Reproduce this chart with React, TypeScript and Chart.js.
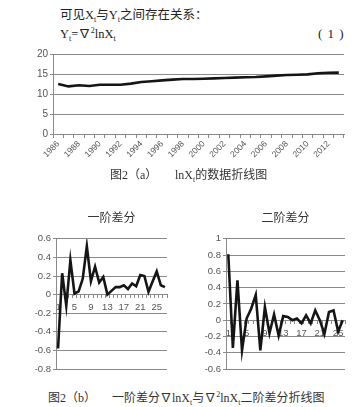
import React, { useEffect, useRef } from 'react';
import { Chart, registerables } from 'chart.js';

Chart.register(...registerables);

const years = ['1986', '1987', '1988', '1989', '1990', '1991', '1992', '1993', '1994', '1995', '1996', '1997', '1998', '1999', '2000', '2001', '2002', '2003', '2004', '2005', '2006', '2007', '2008', '2009', '2010', '2011', '2012', '2013'];
const lnX = [12.5, 11.9, 12.2, 12.0, 12.3, 12.3, 12.3, 12.6, 13.0, 13.2, 13.4, 13.6, 13.75, 13.75, 13.8, 13.9, 14.0, 14.1, 14.2, 14.25, 14.4, 14.6, 14.75, 14.8, 14.9, 15.2, 15.3, 15.35];

const diff1Labels = ['1', '2', '3', '4', '5', '6', '7', '8', '9', '10', '11', '12', '13', '14', '15', '16', '17', '18', '19', '20', '21', '22', '23', '24', '25', '26', '27'];
const diff1 = [-0.58, 0.23, -0.12, 0.37, 0.01, 0.035, 0.17, 0.52, 0.145, 0.3, 0.13, 0.19, 0.0, 0.04, 0.08, 0.08, 0.1, 0.06, 0.12, 0.09, 0.21, 0.2, 0.03, 0.14, 0.25, 0.1, 0.08];

const diff2Labels = ['1', '2', '3', '4', '5', '6', '7', '8', '9', '10', '11', '12', '13', '14', '15', '16', '17', '18', '19', '20', '21', '22', '23', '24', '25', '26'];
const diff2 = [0.81, -0.34, 0.49, -0.37, 0.02, 0.14, 0.31, -0.37, 0.16, -0.16, 0.07, -0.19, 0.05, 0.04, 0.0, 0.02, -0.04, 0.06, -0.04, 0.12, 0.0, -0.17, 0.1, 0.12, -0.14, 0.0];

const GRID = '#8a8a8a';
const TICK_TEXT = '#555555';
const LINE = '#151515';
const TICK_FONT = "'Liberation Sans', 'DejaVu Sans', sans-serif";

function fmt(v: number): string {
  const r = Math.round(v * 10) / 10;
  if (r === 0) return '0';
  return String(r);
}

function TopChart() {
  const ref = useRef<HTMLCanvasElement>(null);
  useEffect(() => {
    const chart = new Chart(ref.current!, {
      type: 'line',
      data: {
        labels: years,
        datasets: [{ data: lnX, borderColor: LINE, borderWidth: 2.6, pointRadius: 0, tension: 0, fill: false }],
      },
      options: {
        animation: false,
        responsive: false,
        maintainAspectRatio: false,
        layout: { padding: { top: 8, right: 20, left: 0, bottom: 0 } },
        plugins: { legend: { display: false }, tooltip: { enabled: false }, title: { display: false } },
        scales: {
          x: {
            type: 'category',
            offset: true,
            grid: { offset: true, drawOnChartArea: false, drawTicks: true, tickLength: 4, color: GRID },
            border: { color: GRID, width: 1 },
            ticks: {
              autoSkip: false,
              minRotation: 45,
              maxRotation: 45,
              padding: 1,
              color: TICK_TEXT,
              font: { family: TICK_FONT, size: 8.5 },
              callback: (_v: any, i: number) => (i % 2 === 0 ? years[i] : ''),
            },
            afterFit: (s: any) => { s.height = 34; },
          },
          y: {
            min: 0,
            max: 20,
            grid: { color: GRID, tickLength: 3, drawTicks: true },
            border: { color: GRID, width: 1 },
            ticks: { stepSize: 5, padding: 2, color: TICK_TEXT, font: { family: TICK_FONT, size: 10 } },
            afterFit: (s: any) => { s.width = 53; },
          },
        },
      },
    });
    return () => chart.destroy();
  }, []);
  return <canvas ref={ref} width={364} height={122} style={{ position: 'absolute', left: 0, top: 46, width: 364, height: 122 }} />;
}

function DiffChart(props: { labels: string[]; data: number[]; title: string; min: number; max: number; left: number; axisWidth: number; padRight: number }) {
  const ref = useRef<HTMLCanvasElement>(null);
  useEffect(() => {
    const chart = new Chart(ref.current!, {
      type: 'line',
      data: {
        labels: props.labels,
        datasets: [{ data: props.data, borderColor: LINE, borderWidth: 2.6, pointRadius: 0, tension: 0, fill: false }],
      },
      options: {
        animation: false,
        responsive: false,
        maintainAspectRatio: false,
        layout: { padding: { top: 0, right: props.padRight, left: 0, bottom: 8 } },
        plugins: {
          legend: { display: false },
          tooltip: { enabled: false },
          title: {
            display: true,
            text: props.title,
            fullSize: false,
            color: '#333333',
            font: { family: "'Noto Sans CJK SC', sans-serif", size: 12, weight: 'normal' },
            padding: { top: 10, bottom: 14.4 },
          },
        },
        scales: {
          x: {
            type: 'category',
            position: { y: 0 } as any,
            offset: true,
            grid: { offset: true, drawOnChartArea: false, drawTicks: true, tickLength: 3, color: GRID },
            border: { color: GRID, width: 1 },
            ticks: {
              autoSkip: false,
              maxRotation: 0,
              minRotation: 0,
              padding: 4,
              color: TICK_TEXT,
              font: { family: TICK_FONT, size: 9.5 },
              callback: (_v: any, i: number) => (i % 4 === 0 ? props.labels[i] : ''),
            },
          },
          y: {
            min: props.min,
            max: props.max,
            grid: { color: GRID, tickLength: 3, drawTicks: true },
            border: { color: GRID, width: 1 },
            ticks: { stepSize: 0.2, padding: 2, color: TICK_TEXT, font: { family: TICK_FONT, size: 9.5 }, callback: (v: any) => fmt(Number(v)) },
            afterFit: (s: any) => { s.width = props.axisWidth; },
          },
        },
      },
    });
    return () => chart.destroy();
  }, []);
  return <canvas ref={ref} width={182} height={177} style={{ position: 'absolute', left: props.left, top: 200, width: 182, height: 177 }} />;
}

const docFont = "'Liberation Serif', 'Noto Sans CJK SC', serif";
const sub: React.CSSProperties = { fontSize: 8, verticalAlign: -3, lineHeight: 0 };
const sup: React.CSSProperties = { fontSize: 8, verticalAlign: 5, lineHeight: 0 };

export default function App() {
  return (
    <div style={{ position: 'absolute', left: 0, top: 0, width: 364, height: 407, background: '#ffffff', overflow: 'hidden', fontFamily: docFont, color: '#222222' }}>
      <div style={{ position: 'absolute', left: 60, top: 7, fontSize: 12.5, lineHeight: '16px', whiteSpace: 'pre' }}>
        可见X<span style={sub}>t</span>与Y<span style={sub}>t</span>之间存在关系：
      </div>
      <div style={{ position: 'absolute', left: 60, top: 26, fontSize: 12.5, lineHeight: '16px', whiteSpace: 'pre' }}>
        Y<span style={sub}>t</span>=∇<span style={sup}>2</span>lnX<span style={sub}>t</span>
      </div>
      <div style={{ position: 'absolute', left: 318, top: 26, fontSize: 13, lineHeight: '16px', whiteSpace: 'pre', letterSpacing: 1 }}>( 1 )</div>
      <TopChart />
      <div style={{ position: 'absolute', left: 110, top: 167, fontSize: 12, lineHeight: '16px', whiteSpace: 'pre', color: '#333333' }}>
        图2（a）
      </div>
      <div style={{ position: 'absolute', left: 175, top: 167, fontSize: 12, lineHeight: '16px', whiteSpace: 'pre', color: '#333333' }}>
        lnX<span style={sub}>t</span>的数据折线图
      </div>
      <DiffChart labels={diff1Labels} data={diff1} title="一阶差分" min={-0.8} max={0.6} left={0} axisWidth={56} padRight={15} />
      <DiffChart labels={diff2Labels} data={diff2} title="二阶差分" min={-0.6} max={1} left={182} axisWidth={44} padRight={19} />
      <div style={{ position: 'absolute', left: 48, top: 390, fontSize: 12, lineHeight: '16px', whiteSpace: 'pre', color: '#333333' }}>
        图2（b）
      </div>
      <div style={{ position: 'absolute', left: 112, top: 390, fontSize: 12, lineHeight: '16px', whiteSpace: 'pre', color: '#333333' }}>
        一阶差分∇lnX<span style={sub}>t</span>与∇<span style={sup}>2</span>lnX<span style={sub}>t</span>二阶差分折线图
      </div>
    </div>
  );
}
